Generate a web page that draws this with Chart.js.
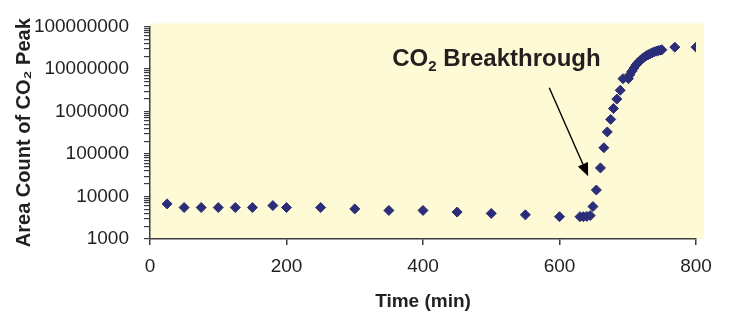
<!DOCTYPE html>
<html>
<head>
<meta charset="utf-8">
<script src="https://cdn.jsdelivr.net/npm/chart.js@4/dist/chart.umd.min.js"></script>
<style>
  html, body { margin: 0; padding: 0; background: #fff; }
  .chart-wrap { position: relative; width: 730px; height: 320px; }
</style>
</head>
<body>
<div class="chart-wrap"><canvas id="chart-co2"></canvas></div>
<script>
// time (min) and area count readings
const TIME = [25, 50, 75, 100, 125, 150, 180, 200, 250, 300, 350, 400, 450, 500, 550, 600,
  630, 635, 640, 645, 649, 654, 660, 665, 670, 675, 679, 684, 689, 693, 701,
  703, 706, 709, 712, 715, 718, 721, 724, 727, 730, 733, 736, 739, 742, 745, 748, 750, 769, 800]
const AREA = [6700, 5500, 5500, 5500, 5500, 5500, 6100, 5500, 5500, 5100, 4700, 4700, 4300, 4000, 3700, 3350,
  3350, 3350, 3400, 3550, 5800, 14200, 47000, 140000, 330000, 650000, 1170000, 1950000, 3150000, 5900000, 5900000,
  7300000, 8800000, 10500000, 12300000, 14000000, 15600000, 17300000, 18800000, 20300000, 21600000,
  22800000, 24000000, 25200000, 26200000, 27000000, 27600000, 28200000, 32500000, 32500000]

const X_TICKS = [0, 200, 400, 600, 800]
const Y_MAJOR = [1e3, 1e4, 1e5, 1e6, 1e7, 1e8]

// annotation: label + arrow pointing at the breakthrough
const NOTE_TEXT = ['CO', '2', ' Breakthrough']
const NOTE_AT = { x: 355, y: 1.19e7 }
const ARROW_FROM = { x: 585, y: 3.6e6 }
const ARROW_TO = { x: 642, y: 3.0e4 }

const INK = '#231f20'
const AXIS = '#3c3c3c'
const FONT = "'Liberation Sans', Arial, sans-serif"

const yTicks = []
Y_MAJOR.forEach((v, i) => {
  yTicks.push(v)
  if (i < Y_MAJOR.length - 1) for (let m = 2; m <= 9; m++) yTicks.push(v * m)
})

const paperPlugin = {
  id: 'paper',
  beforeDraw(chart) {
    const { ctx, chartArea: a } = chart
    ctx.save()
    ctx.fillStyle = '#fffad6'
    ctx.fillRect(a.left, a.top - 3, a.right - a.left + 8, a.bottom - a.top + 3)
    ctx.restore()
  },
  afterDatasetsDraw(chart) {
    const { ctx, scales: { x, y } } = chart
    ctx.save()
    // text
    let tx = x.getPixelForValue(NOTE_AT.x)
    const ty = y.getPixelForValue(NOTE_AT.y)
    ctx.fillStyle = INK
    ctx.textBaseline = 'alphabetic'
    ctx.font = `bold 24px ${FONT}`
    ctx.fillText(NOTE_TEXT[0], tx, ty)
    tx += ctx.measureText(NOTE_TEXT[0]).width
    ctx.font = `bold 15px ${FONT}`
    ctx.fillText(NOTE_TEXT[1], tx, ty + 5)
    tx += ctx.measureText(NOTE_TEXT[1]).width
    ctx.font = `bold 24px ${FONT}`
    ctx.fillText(NOTE_TEXT[2], tx, ty)

    // arrow
    const x0 = x.getPixelForValue(ARROW_FROM.x), y0 = y.getPixelForValue(ARROW_FROM.y)
    const x1 = x.getPixelForValue(ARROW_TO.x), y1 = y.getPixelForValue(ARROW_TO.y)
    const ang = Math.atan2(y1 - y0, x1 - x0)
    const hl = 13, hw = 5.5
    const bx = x1 - hl * Math.cos(ang), by = y1 - hl * Math.sin(ang)
    ctx.strokeStyle = '#000'
    ctx.lineWidth = 1.4
    ctx.beginPath()
    ctx.moveTo(x0, y0)
    ctx.lineTo(bx, by)
    ctx.stroke()
    ctx.fillStyle = '#000'
    ctx.beginPath()
    ctx.moveTo(x1, y1)
    ctx.lineTo(bx + hw * Math.sin(ang), by - hw * Math.cos(ang))
    ctx.lineTo(bx - hw * Math.sin(ang), by + hw * Math.cos(ang))
    ctx.closePath()
    ctx.fill()
    ctx.restore()
  }
}

const ctx = document.getElementById('chart-co2').getContext('2d')
new Chart(ctx, {
  type: 'scatter',
  data: {
    datasets: [{
      data: TIME.map((t, i) => ({ x: t, y: AREA[i] })),
      pointStyle: 'rectRot',
      pointRadius: 5,
      pointBorderWidth: 1,
      backgroundColor: '#2b2d78',
      borderColor: '#2b2d78',
      showLine: false
    }]
  },
  options: {
    responsive: true,
    maintainAspectRatio: false,
    animation: false,
    layout: { padding: { top: 17, right: 34, left: 0, bottom: 0 } },
    plugins: { legend: { display: false }, tooltip: { enabled: false } },
    scales: {
      x: {
        type: 'linear',
        min: 0, max: 800,
        afterBuildTicks: s => { s.ticks = X_TICKS.map(v => ({ value: v })) },
        afterFit: s => { s.height = 81 },
        border: { color: AXIS, width: 1.5 },
        grid: { drawOnChartArea: false, tickLength: 6, color: AXIS, lineWidth: 1.5 },
        ticks: { color: INK, font: { family: FONT, size: 19 }, padding: 10, maxRotation: 0 },
        title: {
          display: true, text: 'Time (min)', color: INK,
          font: { family: FONT, size: 19, weight: 'bold' },
          padding: { top: 0, bottom: 7 }
        }
      },
      y: {
        type: 'logarithmic',
        min: 1e3, max: 1e8,
        afterBuildTicks: s => { s.ticks = yTicks.map(v => ({ value: v })) },
        afterFit: s => { s.width = 150 },
        border: { color: AXIS, width: 1.5 },
        grid: { drawOnChartArea: false, tickLength: 6, color: AXIS, lineWidth: 1.2 },
        ticks: {
          autoSkip: false,
          color: INK,
          font: { family: FONT, size: 19 },
          padding: 15,
          callback: v => Y_MAJOR.includes(v) ? String(v) : ''
        },
        title: {
          display: true, text: 'Area Count of CO₂ Peak', color: INK,
          font: { family: FONT, size: 20, weight: 'bold' },
          padding: { top: 12, bottom: 0 }
        }
      }
    }
  },
  plugins: [paperPlugin]
})
</script>
</body>
</html>
